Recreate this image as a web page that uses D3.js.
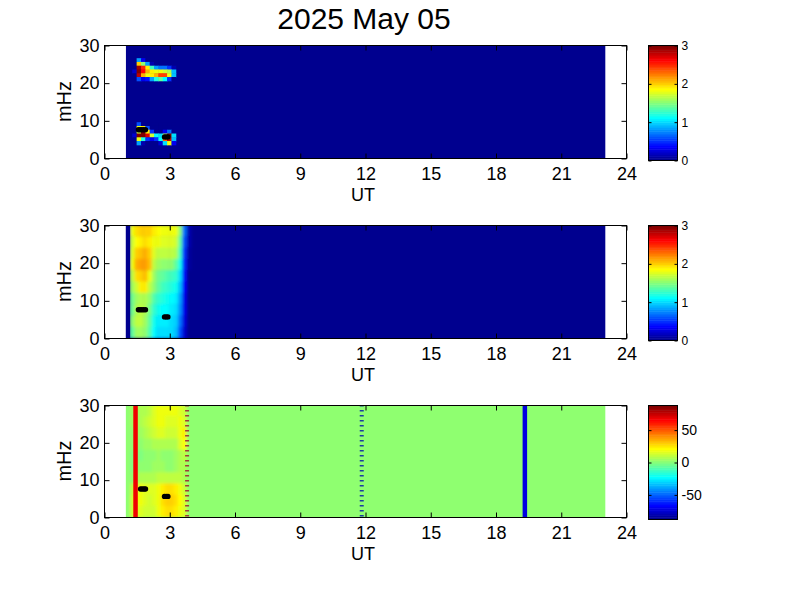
<!DOCTYPE html>
<html><head><meta charset="utf-8">
<script src="https://cdn.jsdelivr.net/npm/d3@7"></script>
<style>html,body{margin:0;background:#fff}svg{display:block}text{font-family:"Liberation Sans",Arial,sans-serif;fill:#000}</style>
</head><body><svg id="c" width="801" height="600"></svg>
<script>
const title = "2025 May 05";
const xTicks = [0,3,6,9,12,15,18,21,24];
const yTicks = [0,10,20,30];
const dataSpan = [1,23.06];
const cellT = 0.2;

// Panel 1: power, 1 mHz rows
const p1Times = [1.3,1.5,1.7,1.9,2.1,2.3,2.5,2.7,2.9,3.1];
const p1Freqs = [26,25,24,23,22,21,9,8,7,6,5,4];
const p1Values = [
 [0,.8,.3,0,0,0,0,0,0,0],
 [0,2.0,1.5,.8,.1,0,0,0,0,0],
 [0,2.9,2.5,1.9,1.3,.8,.7,.7,.5,.1],
 [.2,3,2.6,2.1,1.9,1.8,1.8,1.7,1.6,.9],
 [0,2.8,2.1,1.8,1.9,2.1,2.4,2.4,1.8,.9],
 [0,.6,.3,.4,.8,1.2,1.4,1.1,.5,0],
 [0,.6,0,0,0,0,0,0,0,0],
 [0,1.8,1.9,.6,0,0,0,0,0,0],
 [0,1.7,3,1.9,.5,0,0,.3,.7,0],
 [.2,3,3,2.7,1.7,1.1,1.0,1.6,3,1.0],
 [0,1.8,1.2,.5,.3,.5,1.1,2.3,2.8,.9],
 [0,.8,.1,0,0,0,.2,1.0,1.8,.3]
];
// Panels 2 and 3: 3 mHz rows
const wideTimes = [1.0,1.2,1.4,1.6,1.8,2.0,2.2,2.4,2.6,2.8,3.0,3.2,3.4,3.6,3.8];
const wideFreqs = [28.5,25.5,22.5,19.5,16.5,13.5,10.5,7.5,4.5,1.5];
const p2Values = [
 [0,1.8,1.95,2.0,2.0,1.97,1.9,1.85,1.8,1.8,1.8,1.8,1.5,.7,.1],
 [0,1.7,1.85,1.9,1.95,1.9,1.8,1.8,1.75,1.75,1.75,1.72,1.4,.6,.1],
 [0,1.78,2.0,2.05,2.08,1.97,1.75,1.65,1.65,1.65,1.65,1.6,1.3,.5,.05],
 [0,1.8,2.08,2.12,2.13,2.02,1.65,1.55,1.5,1.5,1.5,1.4,1.15,.45,.05],
 [0,1.68,1.95,2.0,2.02,1.8,1.55,1.45,1.4,1.35,1.3,1.25,1.0,.4,0],
 [0,1.55,1.7,1.88,1.88,1.65,1.5,1.4,1.3,1.25,1.2,1.15,.9,.35,0],
 [0,1.45,1.55,1.6,1.6,1.5,1.35,1.25,1.2,1.15,1.1,1.05,.8,.3,0],
 [0,1.45,1.6,1.65,1.6,1.45,1.25,1.15,1.1,1.1,1.05,1.0,.75,.3,0],
 [0,1.5,1.65,1.65,1.55,1.4,1.15,1.05,1.05,1.05,1.0,.95,.7,.25,0],
 [0,1.4,1.55,1.55,1.5,1.35,1.1,1.0,1.0,1.0,1.0,.9,.6,.2,0]
];
const p3Values = [
 [0,3,5,6,8,10,14,17,18,18,18,17,16,11,0],
 [0,3,5,8,9,12,15,17,18,16,15,15,18,15,0],
 [0,2,4,5,7,9,11,14,14,12,11,12,19,22,0],
 [0,0,1,2,3,4,6,8,7,6,6,8,16,20,0],
 [0,-1,-2,-1,0,1,2,3,1,0,1,3,8,10,0],
 [0,-1,0,1,1,2,3,4,3,1,0,3,6,8,0],
 [0,2,4,6,6,7,8,9,9,9,10,10,10,8,0],
 [0,10,15,17,15,14,14,17,23,25,25,23,18,12,0],
 [0,12,17,17,14,13,14,19,26,30,30,26,20,14,0],
 [0,11,15,15,13,12,13,19,24,26,26,24,18,14,0]
];
// Peak markers
const starT = [1.58,1.66,1.74,1.82,1.91,2.78,2.86,2.94];
const starF = [7.5,7.5,7.5,7.5,7.5,5.6,5.6,5.6];
const star3T = [1.68,1.76,1.84,1.91,2.78,2.86,2.94];
const star3F = [7.5,7.5,7.5,7.5,5.5,5.5,5.5];
// Vertical event lines in panel 3
const lineT = [1.45,19.35,3.82,11.85];
const lineColor = ["#f00000","#0000e0","#a03c3c","#1a3ca0"];
const lineDotted = [false,false,true,true];

const LEVELS = 64;
function jet(i){
  const x=(i+1)/LEVELS, c=v=>Math.round(255*Math.max(0,Math.min(1,v)));
  return `rgb(${c(Math.min(4*x-1.5,-4*x+4.5))},${c(Math.min(4*x-.5,-4*x+3.5))},${c(Math.min(4*x+.5,-4*x+2.5))})`;
}
const svg = d3.select("#c");
const defs = svg.append("defs");
defs.append("filter").attr("id","b1").attr("x","-20%").attr("y","-20%").attr("width","140%").attr("height","140%")
  .append("feGaussianBlur").attr("stdDeviation",0.6);
defs.append("filter").attr("id","b2").attr("x","-20%").attr("y","-20%").attr("width","140%").attr("height","140%")
  .append("feGaussianBlur").attr("stdDeviation",1.6);

svg.append("text").attr("x",364).attr("y",29).attr("text-anchor","middle").attr("font-size",30).text(title);

const x = d3.scaleLinear().domain([0,24]).range([104,626]);

const panels = [
 {top:45,bottom:158,cbBottom:160,domain:[0,3],cbTicks:[0,1,2,3],blur:"b1",times:p1Times,freqs:p1Freqs,vals:p1Values,df:1,st:starT,sf:starF,lines:false},
 {top:225,bottom:338,cbBottom:340,domain:[0,3],cbTicks:[0,1,2,3],blur:"b2",times:wideTimes,freqs:wideFreqs,vals:p2Values,df:3,st:starT,sf:starF,lines:false},
 {top:405,bottom:517,cbBottom:519,domain:[-88,88],cbTicks:[-50,0,50],blur:"b2",times:wideTimes,freqs:wideFreqs,vals:p3Values,df:3,st:star3T,sf:star3F,lines:true}
];

panels.forEach((p,pi)=>{
  const y = d3.scaleLinear().domain([0,30]).range([p.bottom,p.top]);
  const lev = d3.scaleQuantize().domain(p.domain).range(d3.range(LEVELS));
  const color = v=>jet(lev(v));
  const g = svg.append("g");
  const cid = "clip"+pi;
  defs.append("clipPath").attr("id",cid).append("rect")
    .attr("x",x(dataSpan[0])).attr("width",x(dataSpan[1])-x(dataSpan[0]))
    .attr("y",p.top).attr("height",p.bottom-p.top);
  const plot = g.append("g").attr("clip-path",`url(#${cid})`);
  plot.append("rect").attr("x",x(dataSpan[0])).attr("width",x(dataSpan[1])-x(dataSpan[0]))
    .attr("y",p.top).attr("height",p.bottom-p.top).attr("fill",color(0));
  const cells = p.vals.flatMap((r,i)=>r.map((v,j)=>({t:p.times[j],f:p.freqs[i],v})));
  plot.append("g").attr("filter",`url(#${p.blur})`).selectAll("rect").data(cells).join("rect")
    .attr("x",d=>x(d.t)).attr("width",x(cellT)-x(0)+.5)
    .attr("y",d=>y(d.f+p.df/2)).attr("height",y(0)-y(p.df)+.5)
    .attr("fill",d=>color(d.v));
  if(pi==1){
    plot.append("rect").attr("x",x(wideTimes[0])).attr("width",x(cellT)-x(0)).attr("y",p.top).attr("height",p.bottom-p.top).attr("fill",color(0));
  }
  if(p.lines){
    lineT.forEach((t,i)=>{
      plot.append("line").attr("x1",x(t)).attr("x2",x(t)).attr("y1",p.top).attr("y2",p.bottom)
        .attr("stroke",lineColor[i]).attr("stroke-width",lineDotted[i]?4:4.5)
        .attr("stroke-dasharray",lineDotted[i]?"1.6 3.4":null);
    });
  }
  const sym = d3.symbol().type(d3.symbolCircle).size(22);
  plot.append("g").selectAll("path").data(p.st.map((t,i)=>({t,f:p.sf[i]}))).join("path")
    .attr("d",sym).attr("transform",d=>`translate(${x(d.t)},${y(d.f)})`).attr("fill","#000");

  g.append("rect").attr("x",104.5).attr("y",p.top+.5).attr("width",522).attr("height",p.bottom-p.top)
    .attr("fill","none").attr("stroke","#000");
  const styleAxis = (a,size)=>{a.select(".domain").remove();a.selectAll("line").attr("stroke","#000");
    a.selectAll("text").attr("font-size",size).attr("font-family",'"Liberation Sans",Arial,sans-serif').attr("fill","#000");};
  const bottom = g.append("g").attr("transform",`translate(0.5,${p.bottom+.5})`)
    .call(d3.axisBottom(x).tickValues(xTicks).tickFormat(String).tickSize(-5).tickPadding(9));
  styleAxis(bottom,18);
  g.append("g").attr("transform",`translate(0.5,${p.top+.5})`)
    .call(d3.axisTop(x).tickValues(xTicks).tickFormat("").tickSize(-5)).call(a=>styleAxis(a,18));
  const left = g.append("g").attr("transform",`translate(104.5,0.5)`)
    .call(d3.axisLeft(y).tickValues(yTicks).tickSize(-5).tickPadding(5));
  styleAxis(left,18);
  g.append("g").attr("transform",`translate(626.5,0.5)`)
    .call(d3.axisRight(y).tickValues(yTicks).tickFormat("").tickSize(-5)).call(a=>styleAxis(a,18));
  g.append("text").attr("x",363).attr("y",p.bottom+43).attr("text-anchor","middle").attr("font-size",18).text("UT");
  g.append("text").attr("transform",`translate(71,${(p.top+p.bottom)/2}) rotate(-90)`).attr("text-anchor","middle").attr("font-size",20).text("mHz");

  const cbX=[648,677];
  const cy = d3.scaleLinear().domain(p.domain).range([p.cbBottom,p.top]);
  const band = (p.domain[1]-p.domain[0])/LEVELS;
  g.append("g").selectAll("rect").data(d3.range(LEVELS)).join("rect")
    .attr("x",cbX[0]).attr("width",cbX[1]-cbX[0])
    .attr("y",i=>cy(p.domain[0]+(i+1)*band)).attr("height",(p.cbBottom-p.top)/LEVELS+.5)
    .attr("fill",i=>jet(i));
  g.append("rect").attr("x",cbX[0]+.5).attr("y",p.top+.5).attr("width",cbX[1]-cbX[0]).attr("height",p.cbBottom-p.top)
    .attr("fill","none").attr("stroke","#000");
  const cbR = g.append("g").attr("transform",`translate(${cbX[1]+.5},0.5)`)
    .call(d3.axisRight(cy).tickValues(p.cbTicks).tickFormat(String).tickSize(-3).tickPadding(4));
  styleAxis(cbR,pi==2?14:12);
  g.append("g").attr("transform",`translate(${cbX[0]+.5},0.5)`)
    .call(d3.axisLeft(cy).tickValues(p.cbTicks).tickFormat("").tickSize(-3)).call(a=>styleAxis(a,13));
});
</script></body></html>
